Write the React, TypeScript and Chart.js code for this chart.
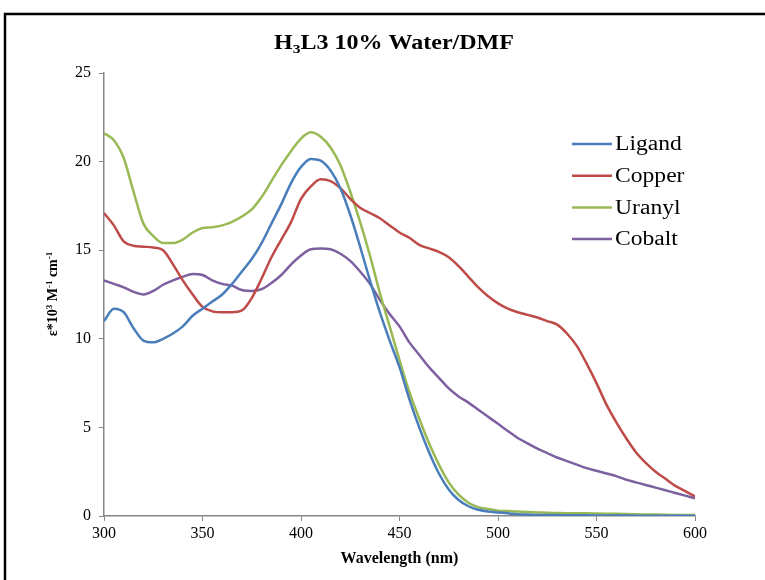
import React, { useEffect, useRef } from "react";
import { Chart, registerables } from "chart.js";

Chart.register(...registerables);

const wavelengths = [
  300, 305, 310, 315, 320, 325, 330, 335, 340, 345, 350, 355, 360, 365, 370, 375, 380, 385, 390, 395,
  400, 405, 410, 415, 420, 425, 430, 435, 440, 445, 450, 455, 460, 465, 470, 475, 480, 485, 490, 495,
  500, 505, 510, 515, 520, 525, 530, 535, 540, 545, 550, 555, 560, 565, 570, 575, 580, 585, 590, 595, 600,
];

const ligand = [
  11.0, 11.7, 11.5, 10.6, 9.9, 9.8, 10.0, 10.3, 10.7, 11.3, 11.7, 12.1, 12.5, 13.1, 13.8, 14.5, 15.4, 16.5, 17.6, 18.8,
  19.7, 20.15, 20.05, 19.5, 18.5, 17.0, 15.2, 13.3, 11.5, 9.9, 8.4, 6.6, 5.0, 3.6, 2.4, 1.5, 0.9, 0.55, 0.35, 0.25,
  0.2, 0.15, 0.1, 0.08, 0.06, 0.05, 0.05, 0.04, 0.04, 0.04, 0.03, 0.03, 0.03, 0.03, 0.02, 0.02, 0.02, 0.02, 0.02, 0.02, 0.02,
];

const copper = [
  17.1, 16.4, 15.5, 15.25, 15.2, 15.15, 15.0, 14.2, 13.3, 12.5, 11.8, 11.55, 11.5, 11.5, 11.6, 12.3, 13.4, 14.6, 15.6, 16.6,
  17.9, 18.6, 19.0, 18.9, 18.5, 17.9, 17.4, 17.1, 16.8, 16.4, 16.0, 15.7, 15.3, 15.1, 14.9, 14.6, 14.1, 13.5, 12.9, 12.4,
  12.0, 11.7, 11.5, 11.35, 11.2, 11.0, 10.8, 10.3, 9.6, 8.6, 7.5, 6.3, 5.3, 4.4, 3.6, 3.0, 2.5, 2.1, 1.7, 1.4, 1.1,
];

const uranyl = [
  21.6, 21.2, 20.2, 18.3, 16.5, 15.8, 15.4, 15.4, 15.6, 16.0, 16.25, 16.3, 16.4, 16.6, 16.9, 17.3, 18.0, 18.9, 19.8, 20.6,
  21.3, 21.65, 21.4, 20.8, 19.8, 18.3, 16.6, 14.7, 12.6, 10.7, 8.8, 7.0, 5.5, 4.1, 2.9, 1.9, 1.2, 0.75, 0.5, 0.4,
  0.3, 0.28, 0.25, 0.22, 0.2, 0.18, 0.17, 0.16, 0.15, 0.15, 0.14, 0.13, 0.12, 0.11, 0.1, 0.09, 0.08, 0.07, 0.06, 0.05, 0.05,
];

const cobalt = [
  13.3, 13.1, 12.9, 12.65, 12.5, 12.7, 13.05, 13.3, 13.5, 13.65, 13.6, 13.3, 13.1, 13.0, 12.75, 12.7, 12.8, 13.15, 13.6, 14.2,
  14.7, 15.05, 15.1, 15.05, 14.8, 14.4, 13.8, 13.1, 12.2, 11.4, 10.7, 9.8, 9.1, 8.4, 7.8, 7.2, 6.75, 6.4, 6.0, 5.6,
  5.2, 4.8, 4.4, 4.1, 3.8, 3.55, 3.3, 3.1, 2.9, 2.7, 2.55, 2.4, 2.25, 2.05, 1.9, 1.75, 1.6, 1.45, 1.3, 1.15, 1.0,
];

const seriesNames = ["Ligand", "Copper", "Uranyl", "Cobalt"];
const seriesColors = ["#4A7EBB", "#BE4B48", "#98B954", "#7D60A0"];
const seriesValues = [ligand, copper, uranyl, cobalt];

const FONT = "'Liberation Serif', 'Times New Roman', serif";

function drawRuns(
  ctx: CanvasRenderingContext2D,
  runs: { t: string; size: number; dy: number }[],
  cx: number,
  baseline: number,
  bold: boolean,
  sx: number
) {
  const w = runs.map((r) => {
    ctx.font = `${bold ? "bold " : ""}${r.size}px ${FONT}`;
    return ctx.measureText(r.t).width;
  });
  const total = w.reduce((a, b) => a + b, 0);
  ctx.save();
  ctx.translate(cx, baseline);
  ctx.scale(sx, 1);
  let x = -total / 2;
  runs.forEach((r, i) => {
    ctx.font = `${bold ? "bold " : ""}${r.size}px ${FONT}`;
    ctx.fillText(r.t, x, r.dy);
    x += w[i];
  });
  ctx.restore();
}

const decorPlugin = {
  id: "decor",
  afterDraw(chart: any) {
    const ctx: CanvasRenderingContext2D = chart.ctx;
    ctx.save();
    ctx.fillStyle = "#000";
    ctx.textAlign = "left";
    ctx.textBaseline = "alphabetic";
    // frame
    ctx.strokeStyle = "#000";
    ctx.lineWidth = 2.5;
    ctx.strokeRect(5, 14, 800, 600);
    // title
    drawRuns(
      ctx,
      [
        { t: "H", size: 20, dy: 0 },
        { t: "3", size: 13, dy: 4 },
        { t: "L3 10% Water/DMF", size: 20, dy: 0 },
      ],
      394,
      49,
      true,
      1.2
    );
    // y axis title
    ctx.save();
    ctx.translate(57, 294);
    ctx.rotate(-Math.PI / 2);
    drawRuns(
      ctx,
      [
        { t: "ε*10", size: 14, dy: 0 },
        { t: "3", size: 9, dy: -5 },
        { t: " M", size: 14, dy: 0 },
        { t: "-1", size: 9, dy: -5 },
        { t: " cm", size: 14, dy: 0 },
        { t: "-1", size: 9, dy: -5 },
      ],
      0,
      0,
      true,
      1
    );
    ctx.restore();
    // legend
    ctx.textBaseline = "middle";
    seriesNames.forEach((name, i) => {
      const y = 144 + i * 31.7;
      ctx.strokeStyle = seriesColors[i];
      ctx.lineWidth = 2.5;
      ctx.beginPath();
      ctx.moveTo(572, y);
      ctx.lineTo(612, y);
      ctx.stroke();
      ctx.fillStyle = "#000";
      ctx.save();
      ctx.translate(615, y + 1);
      ctx.scale(1.18, 1);
      ctx.font = `20px ${FONT}`;
      ctx.fillText(name, 0, 0);
      ctx.restore();
    });
    ctx.restore();
  },
};

export default function App() {
  const ref = useRef<HTMLCanvasElement>(null);
  useEffect(() => {
    if (!ref.current) return;
    const chart = new Chart(ref.current, {
      type: "line",
      data: {
        datasets: seriesNames.map((name, i) => ({
          label: name,
          data: wavelengths.map((x, j) => ({ x, y: seriesValues[i][j] })),
          borderColor: seriesColors[i],
          backgroundColor: seriesColors[i],
          borderWidth: 2.5,
          pointRadius: 0,
          cubicInterpolationMode: "monotone",
          fill: false,
        })),
      },
      options: {
        animation: false,
        responsive: false,
        maintainAspectRatio: false,
        layout: { padding: { left: 0, right: 70, top: 73, bottom: 8 } },
        plugins: { legend: { display: false }, title: { display: false }, tooltip: { enabled: false } },
        scales: {
          x: {
            type: "linear",
            min: 300,
            max: 600,
            ticks: { stepSize: 50, color: "#000", font: { family: FONT, size: 16 }, padding: 3, maxRotation: 0 },
            grid: { display: true, drawOnChartArea: false, drawTicks: true, tickLength: 5, color: "#868686" },
            border: { display: true, color: "#868686", width: 1.5 },
            title: { display: true, text: "Wavelength (nm)", color: "#000", font: { family: FONT, size: 16, weight: "bold" }, padding: { top: 2 } },
            afterFit: (s: any) => {
              s.height = 56;
            },
          },
          y: {
            min: 0,
            max: 25,
            ticks: { stepSize: 5, color: "#000", font: { family: FONT, size: 16 }, padding: 8 },
            grid: { display: true, drawOnChartArea: false, drawTicks: true, tickLength: 5, color: "#868686" },
            border: { display: true, color: "#868686", width: 1.5 },
            afterFit: (s: any) => {
              s.width = 104;
            },
          },
        },
      },
      plugins: [decorPlugin],
    });
    return () => chart.destroy();
  }, []);
  return (
    <div style={{ position: "absolute", left: 0, top: 0, width: 765, height: 580, overflow: "hidden", background: "#fff" }}>
      <canvas ref={ref} width={765} height={580} style={{ width: 765, height: 580, display: "block" }} />
    </div>
  );
}
